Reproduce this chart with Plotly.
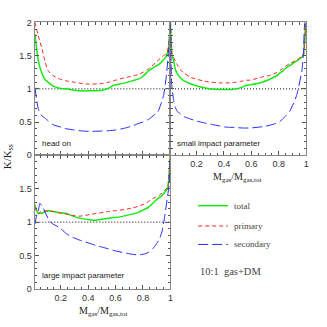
import plotly.graph_objects as go

# ---- data ----
x_head = [0.012, 0.036, 0.06, 0.085, 0.108, 0.144, 0.19, 0.24, 0.30, 0.36, 0.41, 0.50, 0.55, 0.58, 0.60, 0.67, 0.72, 0.77, 0.80, 0.84, 0.89, 0.91, 0.95, 0.97, 0.985, 0.995, 1.0]
total_head = [1.82, 1.43, 1.25, 1.14, 1.10, 1.04, 1.01, 1.00, 0.98, 0.97, 0.97, 0.98, 1.01, 1.05, 1.06, 1.09, 1.12, 1.15, 1.19, 1.27, 1.34, 1.36, 1.44, 1.49, 1.60, 1.85, 2.05]
prim_head = [2.0, 1.80, 1.63, 1.42, 1.27, 1.20, 1.15, 1.12, 1.10, 1.08, 1.07, 1.08, 1.10, 1.12, 1.13, 1.17, 1.19, 1.22, 1.25, 1.30, 1.39, 1.43, 1.50, 1.53, 1.62, 1.85, 2.05]
sec_head = [1.02, 0.70, 0.60, 0.56, 0.52, 0.46, 0.43, 0.40, 0.38, 0.365, 0.36, 0.365, 0.37, 0.375, 0.38, 0.41, 0.44, 0.48, 0.50, 0.54, 0.62, 0.66, 0.90, 1.19, 1.53, 1.85, 2.05]

x_small = [0.01, 0.015, 0.02, 0.036, 0.046, 0.06, 0.08, 0.11, 0.15, 0.21, 0.25, 0.30, 0.37, 0.39, 0.44, 0.46, 0.54, 0.56, 0.59, 0.68, 0.73, 0.78, 0.81, 0.83, 0.85, 0.88, 0.93, 0.97, 0.98, 0.99, 1.0]
total_small = [2.0, 1.70, 1.53, 1.40, 1.29, 1.23, 1.17, 1.12, 1.08, 1.04, 1.02, 1.00, 0.99, 0.99, 0.99, 0.99, 1.03, 1.05, 1.06, 1.10, 1.14, 1.19, 1.24, 1.27, 1.31, 1.35, 1.42, 1.48, 1.51, 1.75, 2.05]
prim_small = [2.0, 1.75, 1.55, 1.46, 1.41, 1.36, 1.29, 1.24, 1.18, 1.14, 1.12, 1.10, 1.09, 1.09, 1.09, 1.09, 1.12, 1.13, 1.13, 1.18, 1.20, 1.24, 1.28, 1.31, 1.34, 1.38, 1.43, 1.49, 1.51, 1.75, 2.05]
sec_small = [2.0, 1.40, 1.05, 0.80, 0.72, 0.66, 0.63, 0.58, 0.55, 0.51, 0.49, 0.47, 0.44, 0.43, 0.42, 0.42, 0.41, 0.41, 0.41, 0.43, 0.45, 0.48, 0.51, 0.55, 0.59, 0.66, 0.90, 1.29, 1.55, 2.0, 2.05]

x_large = [0.012, 0.024, 0.036, 0.048, 0.07, 0.084, 0.12, 0.145, 0.19, 0.24, 0.29, 0.34, 0.43, 0.46, 0.55, 0.58, 0.60, 0.72, 0.77, 0.82, 0.84, 0.87, 0.89, 0.92, 0.94, 0.96, 0.98, 0.99, 1.0]
total_large = [1.26, 1.18, 1.13, 1.13, 1.14, 1.16, 1.17, 1.16, 1.14, 1.13, 1.09, 1.06, 1.03, 1.03, 1.06, 1.07, 1.07, 1.12, 1.15, 1.20, 1.22, 1.28, 1.32, 1.37, 1.40, 1.45, 1.51, 1.70, 2.05]
prim_large = [1.23, 1.16, 1.13, 1.15, 1.17, 1.17, 1.16, 1.16, 1.14, 1.12, 1.10, 1.09, 1.12, 1.13, 1.16, 1.17, 1.17, 1.21, 1.24, 1.28, 1.31, 1.35, 1.37, 1.40, 1.44, 1.48, 1.52, 1.70, 2.05]
sec_large = [0.97, 1.10, 1.16, 1.28, 1.22, 1.16, 1.01, 0.97, 0.92, 0.83, 0.77, 0.73, 0.67, 0.65, 0.60, 0.58, 0.57, 0.52, 0.51, 0.53, 0.55, 0.60, 0.65, 0.75, 0.87, 1.11, 1.40, 1.55, 2.05]

y_ticks_left = [0, 0.5, 1, 1.5, 2]
y_ticks_bottom = [0, 0.5, 1, 1.5]
x_ticks = [0.2, 0.4, 0.6, 0.8, 1]
x_tick_text = ["0.2", "0.4", "0.6", "0.8", "1"]

panel_labels = ["head on", "small impact parameter", "large impact parameter"]
legend_names = ["total", "primary", "secondary"]

W = H = 327
def px(x): return x / W
def py(y): return 1 - y / H

GREEN = "rgb(20,235,20)"
RED = "rgb(255,30,30)"
BLUE = "rgb(40,40,255)"
styles = [
    dict(color=GREEN, width=1.5, dash="solid"),
    dict(color=RED, width=1, dash="4px,3px"),
    dict(color=BLUE, width=1, dash="10px,4px"),
]

fig = go.Figure()
panels = [
    ("x", "y", x_head, [total_head, prim_head, sec_head]),
    ("x2", "y2", x_small, [total_small, prim_small, sec_small]),
    ("x3", "y3", x_large, [total_large, prim_large, sec_large]),
]
for xa, ya, xs, series in panels:
    fig.add_trace(go.Scatter(x=[0.0, 1.0], y=[1, 1], xaxis=xa, yaxis=ya, mode="lines",
                             line=dict(color="black", width=1, dash="1px,2px"),
                             showlegend=False, hoverinfo="skip"))
    for s, st, name in zip(series, styles, legend_names):
        fig.add_trace(go.Scatter(x=xs, y=s, xaxis=xa, yaxis=ya, mode="lines",
                                 line=dict(shape="spline", smoothing=0.5, **st), name=name,
                                 showlegend=False))

tickfont = dict(family="Liberation Sans, Arial", size=9, color="#333")
axcommon = dict(showline=True, linecolor="#888", linewidth=1, mirror="ticks", ticks="inside",
                tickcolor="#555", ticklen=4, showgrid=False, zeroline=False, tickfont=tickfont)
xcommon = dict(range=[0.01, 1.0], tickvals=x_ticks, ticktext=x_tick_text,
               minor=dict(dtick=0.05, tick0=0, ticks="inside", ticklen=2.5, tickcolor="#555"), **axcommon)
ycommon = dict(range=[0, 2], minor=dict(dtick=0.1, tick0=0, ticks="inside", ticklen=2.5, tickcolor="#555"), **axcommon)

L, M, R = 35, 172, 309
T, C, B = 18, 155, 293
fig.update_layout(
    width=W, height=H, margin=dict(l=0, r=0, t=0, b=0),
    paper_bgcolor="white", plot_bgcolor="white",
    xaxis=dict(domain=[px(L), px(M)], anchor="y", showticklabels=False, **xcommon),
    yaxis=dict(domain=[py(C), py(T)], anchor="x", tickvals=y_ticks_left,
               ticktext=[str(v) for v in y_ticks_left], **ycommon),
    xaxis2=dict(domain=[px(M), px(R)], anchor="y2", **xcommon),
    yaxis2=dict(domain=[py(C), py(T)], anchor="x2", showticklabels=False, tickvals=y_ticks_left, **ycommon),
    xaxis3=dict(domain=[px(L), px(M)], anchor="y3", **xcommon),
    yaxis3=dict(domain=[py(B), py(C)], anchor="x3", tickvals=y_ticks_bottom,
                ticktext=[str(v) for v in y_ticks_bottom], **ycommon),
)

serif = "Liberation Serif, Times New Roman"
base = dict(xref="paper", yref="paper", showarrow=False, xanchor="center", yanchor="middle")
ann = []
# panel labels
sans_lab = dict(family="Liberation Sans, Arial", size=8, color="#222")
ann.append(dict(base, x=px(40), y=py(143), text=panel_labels[0], xanchor="left", font=sans_lab))
ann.append(dict(base, x=px(177), y=py(143), text=panel_labels[1], xanchor="left", font=sans_lab))
ann.append(dict(base, x=px(40), y=py(279), text=panel_labels[2], xanchor="left", font=sans_lab))
# axis titles
xt = "M<sub>gas</sub>/M<sub>gas,tot</sub>"
ann.append(dict(base, x=px(239), y=py(178), text=xt, font=dict(family=serif, size=10, color="#222")))
ann.append(dict(base, x=px(104), y=py(316), text=xt, font=dict(family=serif, size=10, color="#222")))
ann.append(dict(base, x=px(8), y=py(156), text="K/K<sub>ss</sub>", textangle=-90,
                font=dict(family=serif, size=11, color="#222")))
# legend
leg_y = [207, 228, 247]
shapes = []
for name, st, yy in zip(legend_names, styles, leg_y):
    shapes.append(dict(type="line", xref="paper", yref="paper", x0=px(200), x1=px(230),
                       y0=py(yy), y1=py(yy), line=dict(color=st["color"], width=st["width"], dash=st["dash"])))
    ann.append(dict(base, x=px(234), y=py(yy), text=name, xanchor="left",
                    font=dict(family=serif, size=9, color="#444")))
ann.append(dict(base, x=px(200), y=py(275), text="10:1  gas+DM", xanchor="left",
                font=dict(family=serif, size=10.5, color="#444")))
fig.update_layout(annotations=ann, shapes=shapes)

fig.write_html("out.html", config={"displayModeBar": False},
               post_script="document.body.style.margin='0px';document.body.style.overflow='hidden';")
